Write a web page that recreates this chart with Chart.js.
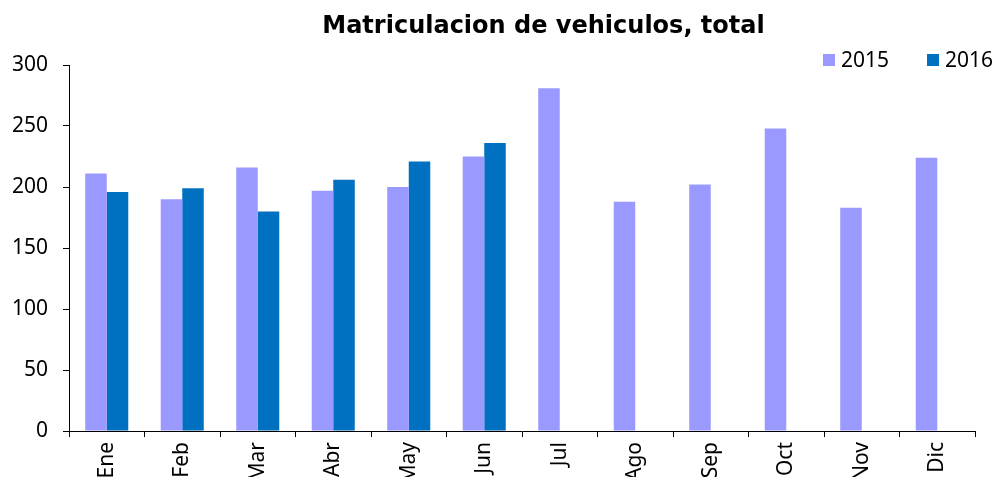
<!DOCTYPE html>
<html>
<head>
<meta charset="utf-8">
<script src="https://cdn.jsdelivr.net/npm/chart.js@4.4.1/dist/chart.umd.min.js"></script>
<style>
  html, body { margin: 0; padding: 0; background: #ffffff; overflow: hidden; }
  #wrap { width: 997px; height: 477px; }
</style>
</head>
<body>
<div id="wrap"><canvas id="c" width="997" height="477"></canvas></div>
<script>
const categories = ["Ene", "Feb", "Mar", "Abr", "May", "Jun", "Jul", "Ago", "Sep", "Oct", "Nov", "Dic"];
const values2015 = [211, 190, 216, 197, 200, 225, 281, 188, 202, 248, 183, 224];
const values2016 = [196, 199, 180, 206, 221, 236, null, null, null, null, null, null];
const yTicks = [0, 50, 100, 150, 200, 250, 300];
const seriesNames = ["2015", "2016"];
const seriesColors = ["#9999FF", "#0070C0"];
const titleText = "Matriculacion de vehiculos, total";

const fontFamily = "'Noto Sans', 'DejaVu Sans', sans-serif";
const tickFont = { family: fontFamily, size: 21 };

// Title shifted to match the reference's horizontal placement
const nudge = {
  id: 'nudge',
  afterLayout(chart) {
    const t = chart.titleBlock;
    if (t) { t.left += 90; }
  }
};

// Legend drawn at the top right, overlapping the plot's top margin as in the reference
const cornerLegend = {
  id: 'cornerLegend',
  afterDraw(chart) {
    const ctx = chart.ctx;
    const slots = [823, 927];
    const cy = 60;
    ctx.save();
    ctx.font = `${tickFont.size}px ${fontFamily}`;
    ctx.textBaseline = 'middle';
    ctx.textAlign = 'left';
    chart.data.datasets.forEach((ds, i) => {
      const x = slots[i];
      ctx.fillStyle = ds.backgroundColor;
      ctx.fillRect(x, cy - 6, 12, 12);
      ctx.fillStyle = '#000000';
      ctx.fillText(ds.label, x + 18, cy + 1);
    });
    ctx.restore();
  }
};

new Chart(document.getElementById('c'), {
  type: 'bar',
  data: {
    labels: categories,
    datasets: [
      { label: seriesNames[0], data: values2015, backgroundColor: seriesColors[0], borderWidth: 0 },
      { label: seriesNames[1], data: values2016, backgroundColor: seriesColors[1], borderWidth: 0 }
    ]
  },
  options: {
    responsive: false,
    animation: false,
    devicePixelRatio: 1,
    layout: { padding: 0 },
    datasets: { bar: { barPercentage: 1.0, categoryPercentage: 0.57 } },
    scales: {
      x: {
        offset: true,
        grid: { display: true, drawOnChartArea: false, drawTicks: true, tickLength: 6, offset: true, color: '#000000' },
        border: { display: true, color: '#000000', width: 1 },
        ticks: { color: '#000000', font: tickFont, maxRotation: 90, minRotation: 90, padding: 5, autoSkip: false },
        afterFit(scale) { scale.height = 46; }
      },
      y: {
        min: 0, max: 300,
        afterBuildTicks(scale) { scale.ticks = yTicks.map(v => ({ value: v })); },
        grid: { display: true, drawOnChartArea: false, drawTicks: true, tickLength: 6, color: '#000000' },
        border: { display: true, color: '#000000', width: 1 },
        ticks: { color: '#000000', font: tickFont, padding: 15 },
        afterFit(scale) { scale.width = 69; }
      },
      y2: {
        position: 'right',
        display: true,
        grid: { display: false },
        border: { display: false },
        ticks: { display: false },
        afterFit(scale) { scale.width = 22; }
      }
    },
    plugins: {
      title: {
        display: true,
        text: titleText,
        color: '#000000',
        font: { family: "'DejaVu Sans', sans-serif", size: 24, weight: 'bold', lineHeight: 1.2 },
        padding: { top: 12, bottom: 24.2 }
      },
      legend: { display: false },
      tooltip: { enabled: false }
    }
  },
  plugins: [nudge, cornerLegend]
});
</script>
</body>
</html>
